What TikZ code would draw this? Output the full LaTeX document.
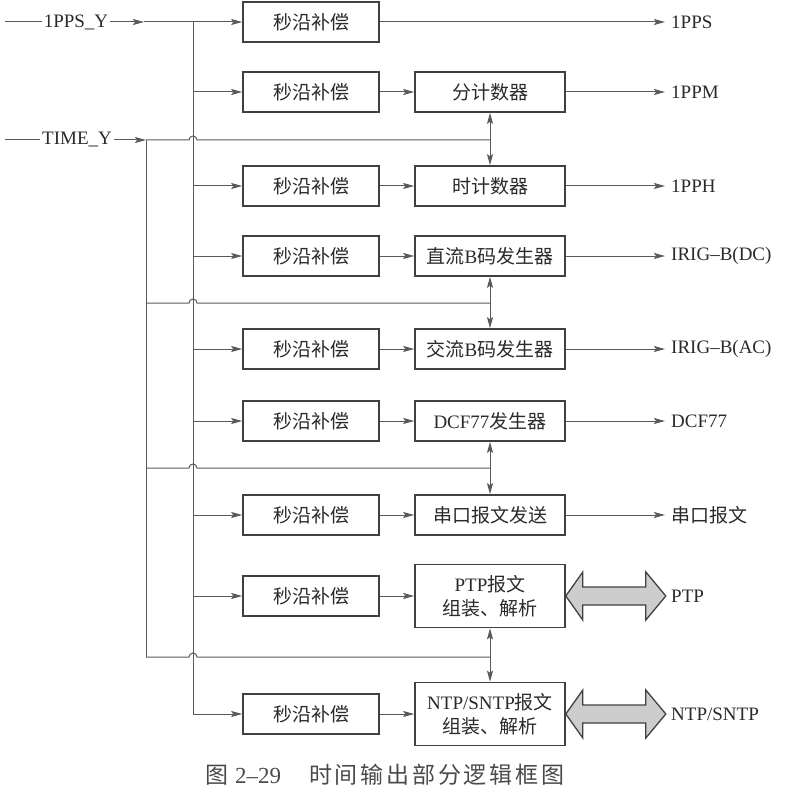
\documentclass[tikz,border=0pt]{standalone}
\usepackage{fontspec}
\setmainfont{Liberation Serif}
\newfontfamily\cjk{Noto Sans CJK SC}
\usetikzlibrary{arrows.meta,calc}
\newcommand{\zh}[1]{{\cjk #1}}
\definecolor{linec}{HTML}{5A5A5A}
\definecolor{boxc}{HTML}{404040}
\definecolor{txt}{HTML}{2A2A2A}
\definecolor{bigfill}{HTML}{CDCDCD}
\tikzset{
  box/.style={draw=boxc, line width=1.6pt, minimum height=40pt, inner sep=0pt, text=txt,
              font=\fontsize{19}{24}\selectfont, align=center},
  sbox/.style={box, minimum width=136pt},
  gbox/.style={box, minimum width=150pt},
  gbox2/.style={gbox, minimum height=63pt},
  lab/.style={text=txt, font=\fontsize{19}{23}\selectfont, inner sep=2pt},
  olab/.style={lab, anchor=west, inner sep=6pt},
  conn/.style={draw=linec, line width=1pt},
  tip/.style={},
  arr/.style={conn, -{Stealth[length=11pt,width=6pt,inset=2pt]}},
  darr/.style={conn, {Stealth[length=11pt,width=6pt,inset=2pt]}-{Stealth[length=11pt,width=6pt,inset=2pt]}},
  bigarr/.style={draw=boxc, line width=1.3pt, fill=bigfill, line join=miter},
}
\begin{document}
\begin{tikzpicture}[x=1pt,y=-1pt]
\useasboundingbox (0,0) rectangle (784,802);

% first column boxes
\node[sbox] (s1) at (311,22)  {\zh{秒沿补偿}};
\node[sbox] (s2) at (311,92)  {\zh{秒沿补偿}};
\node[sbox] (s3) at (311,186) {\zh{秒沿补偿}};
\node[sbox] (s4) at (311,256) {\zh{秒沿补偿}};
\node[sbox] (s5) at (311,349) {\zh{秒沿补偿}};
\node[sbox] (s6) at (311,421) {\zh{秒沿补偿}};
\node[sbox] (s7) at (311,515) {\zh{秒沿补偿}};
\node[sbox] (s8) at (311,596) {\zh{秒沿补偿}};
\node[sbox] (s9) at (311,714) {\zh{秒沿补偿}};

% second column boxes
\node[gbox]  (g2) at (490,92)  {\zh{分计数器}};
\node[gbox]  (g3) at (490,186) {\zh{时计数器}};
\node[gbox]  (g4) at (490,256) {\zh{直流}B\zh{码发生器}};
\node[gbox]  (g5) at (490,349) {\zh{交流}B\zh{码发生器}};
\node[gbox]  (g6) at (490,421) {DCF77\zh{发生器}};
\node[gbox]  (g7) at (490,515) {\zh{串口报文发送}};
\node[gbox2] (g8) at (490,596) {PTP\zh{报文}\\\zh{组装、解析}};
\node[gbox2] (g9) at (490,714) {NTP/SNTP\zh{报文}\\\zh{组装、解析}};

% output labels
\node[olab] (o1) at (665,22)  {1PPS};
\node[olab] (o2) at (665,92)  {1PPM};
\node[olab] (o3) at (665,186) {1PPH};
\node[olab] (o4) at (665,256) {IRIG--B(DC)};
\node[olab] (o5) at (665,349) {IRIG--B(AC)};
\node[olab] (o6) at (665,421) {DCF77};
\node[olab] (o7) at (665,515) {\zh{串口报文}};
\node[olab] (o8) at (665,596) {PTP};
\node[olab] (o9) at (665,714) {NTP/SNTP};

% inputs
\node[lab] (in1) at (76,22)  {1PPS\_Y};
\node[lab] (in2) at (77,140) {TIME\_Y};
\coordinate (a1) at (144,22);
\coordinate (t1) at (146,140);
\coordinate (t2) at (146,303);
\coordinate (t3) at (146,468);
\coordinate (t4) at (146,657);
\coordinate (pbus) at (193,22);
\coordinate (pend) at (193,714);

\draw[conn] (5,22) -- (in1.west);
\draw[arr] (in1.east) -- (a1);
\draw[arr] (a1) -- (s1.west);
\draw[conn] (5,140) -- (in2.west);
\draw[arr] (in2.east) -- (t1);

% 1PPS bus
\draw[conn] (pbus) -- (pend);
\foreach \i in {2,...,9}{
  \draw[arr] (s\i.west -| pbus) -- (s\i.west);
}

% TIME bus
\draw[conn] (t1) -- (t4);
\draw[conn] (t1) -- (189,140) arc[start angle=180,end angle=360,radius=4] -- (g2.south |- t1);
\draw[conn] (t2) -- (189,303) arc[start angle=180,end angle=360,radius=4] -- (g4.south |- t2);
\draw[conn] (t3) -- (189,468) arc[start angle=180,end angle=360,radius=4] -- (g6.south |- t3);
\draw[conn] (t4) -- (189,657) arc[start angle=180,end angle=360,radius=4] -- (g8.south |- t4);

% vertical double arrows
\draw[darr] (g2.south) -- (g3.north);
\draw[darr] (g4.south) -- (g5.north);
\draw[darr] (g6.south) -- (g7.north);
\draw[darr] (g8.south) -- (g9.north);

% first to second column
\foreach \i in {2,...,9}{
  \draw[arr] (s\i.east) -- (g\i.west);
}

% outputs
\draw[arr] (s1.east) -- (o1.west);
\foreach \i in {2,...,7}{
  \draw[arr] (g\i.east) -- (o\i.west);
}

% big double arrows
\foreach \i in {8,9}{
  \draw[bigarr] (g\i.east) -- ++(17,-24) -- ++(0,15) -- ++(63,0) -- ++(0,-15)
     -- ++(20,24) -- ++(-20,24) -- ++(0,-15) -- ++(-63,0) -- ++(0,15) -- cycle;
}

% caption
\node[text=txt!85, anchor=west, inner sep=0pt, font=\fontsize{23}{26}\selectfont] (cap) at (205,775)
  {\zh{图}\hspace{7pt}2--29\hspace{28pt}\makebox[255pt][s]{\zh{时\hfill 间\hfill 输\hfill 出\hfill 部\hfill 分\hfill 逻\hfill 辑\hfill 框\hfill 图}}};
\end{tikzpicture}
\end{document}
